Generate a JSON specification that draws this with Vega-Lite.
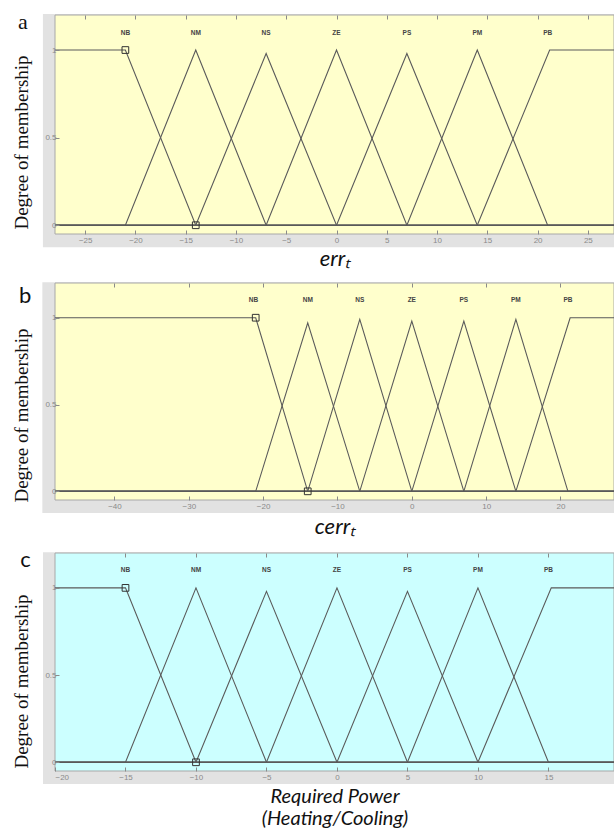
{
  "$schema": "https://vega.github.io/schema/vega-lite/v6.json",
  "background": "white",
  "padding": {"left": 12, "top": 11, "right": 0, "bottom": 0},
  "spacing": 49,
  "bounds": "flush",
  "config": {
    "view": {"stroke": null},
    "axis": {"grid": false, "domain": false, "tickColor": "#8a8a8a", "tickSize": -4, "labelColor": "#8a8a8a", "labelFont": "Liberation Sans", "labelFontSize": 8, "titleColor": "#111", "titleFontWeight": "normal"}
  },
  "vconcat": [
    {
      "width": 559, "height": 219,
      "layer": [
        {"data": {"values": [{}]}, "mark": {"type": "rect", "color": "#e2e2e2", "clip": false},
         "encoding": {
           "x": {"datum": -29.2, "type": "quantitative", "scale": {"domain": [-28, 27.6], "nice": false, "zero": false}, "axis": {"orient": "top", "zindex": 2, "values": [-25, -20, -15, -10, -5, 0, 5, 10, 15, 20, 25], "labels": false, "title": null}},
           "x2": {"datum": 27.6},
           "y": {"datum": -0.125, "type": "quantitative", "scale": {"domain": [-0.05, 1.2], "nice": false, "zero": false}, "axis": null},
           "y2": {"datum": 1.205}
         }},
        {"data": {"values": [{}]}, "mark": {"type": "rect", "color": "#ffffcc", "stroke": "#a8a8a8", "strokeWidth": 1},
         "encoding": {
           "x": {"datum": -28, "type": "quantitative", "axis": {"orient": "bottom", "zindex": 2, "values": [-25, -20, -15, -10, -5, 0, 5, 10, 15, 20, 25], "labelPadding": 6, "title": "errₜ", "titleFont": "Lato", "titleFontStyle": "italic", "titleFontSize": 22, "titlePadding": 4}},
           "x2": {"datum": 27.6},
           "y": {"datum": -0.05, "type": "quantitative", "axis": {"zindex": 2, "values": [0, 0.5, 1], "labelExpr": "'' + datum.value", "labelPadding": 3, "title": "Degree of membership", "titleFont": "Liberation Serif", "titleFontSize": 19, "titlePadding": 13, "titleY": 127}},
           "y2": {"datum": 1.2}
         }},
        {"data": {"values": [
          {"mf": "NB", "x": -28, "y": 1}, {"mf": "NB", "x": -21, "y": 1}, {"mf": "NB", "x": -14, "y": 0}, {"mf": "NB", "x": 27.6, "y": 0},
          {"mf": "NM", "x": -28, "y": 0}, {"mf": "NM", "x": -21, "y": 0}, {"mf": "NM", "x": -14, "y": 1}, {"mf": "NM", "x": -7, "y": 0}, {"mf": "NM", "x": 27.6, "y": 0},
          {"mf": "NS", "x": -28, "y": 0}, {"mf": "NS", "x": -14, "y": 0}, {"mf": "NS", "x": -7, "y": 0.98}, {"mf": "NS", "x": 0, "y": 0}, {"mf": "NS", "x": 27.6, "y": 0},
          {"mf": "ZE", "x": -28, "y": 0}, {"mf": "ZE", "x": -7, "y": 0}, {"mf": "ZE", "x": 0, "y": 1}, {"mf": "ZE", "x": 7, "y": 0}, {"mf": "ZE", "x": 27.6, "y": 0},
          {"mf": "PS", "x": -28, "y": 0}, {"mf": "PS", "x": 0, "y": 0}, {"mf": "PS", "x": 7, "y": 0.98}, {"mf": "PS", "x": 14, "y": 0}, {"mf": "PS", "x": 27.6, "y": 0},
          {"mf": "PM", "x": -28, "y": 0}, {"mf": "PM", "x": 7, "y": 0}, {"mf": "PM", "x": 14, "y": 1}, {"mf": "PM", "x": 21, "y": 0}, {"mf": "PM", "x": 27.6, "y": 0},
          {"mf": "PB", "x": -28, "y": 0}, {"mf": "PB", "x": 14, "y": 0}, {"mf": "PB", "x": 21.2, "y": 1}, {"mf": "PB", "x": 27.6, "y": 1}
         ]},
         "mark": {"type": "line", "color": "#5a5a5a", "strokeWidth": 1.1},
         "encoding": {
           "x": {"field": "x", "type": "quantitative", "axis": null},
           "y": {"field": "y", "type": "quantitative", "axis": null},
           "detail": {"field": "mf"}
         }},
        {"data": {"values": [{"x": -21, "y": 1}, {"x": -14, "y": 0}]},
         "mark": {"type": "point", "shape": "square", "size": 45, "filled": false, "stroke": "#333", "strokeWidth": 1, "opacity": 1},
         "encoding": {
           "x": {"field": "x", "type": "quantitative", "axis": null},
           "y": {"field": "y", "type": "quantitative", "axis": null}
         }},
        {"data": {"values": [{"mf": "NB", "x": -21}, {"mf": "NM", "x": -14}, {"mf": "NS", "x": -7}, {"mf": "ZE", "x": 0}, {"mf": "PS", "x": 7}, {"mf": "PM", "x": 14}, {"mf": "PB", "x": 21}]},
         "mark": {"type": "text", "font": "Liberation Sans", "fontSize": 6.5, "fontWeight": "bold", "color": "#444"},
         "encoding": {
           "x": {"field": "x", "type": "quantitative", "axis": null},
           "y": {"datum": 1.1, "type": "quantitative", "axis": null},
           "text": {"field": "mf"}
         }},
        {"data": {"values": [{"panel": "a"}]},
         "mark": {"type": "text", "font": "Liberation Serif", "fontSize": 22, "color": "#111", "baseline": "alphabetic", "align": "center"},
         "encoding": {
           "x": {"datum": -31.2, "type": "quantitative", "axis": null},
           "y": {"datum": 1.12, "type": "quantitative", "axis": null},
           "text": {"field": "panel"}
         }}
      ],
      "resolve": {"axis": {"x": "independent", "y": "independent"}}
    },
    {
      "spacing": 53,
      "bounds": "flush",
      "vconcat": [
        {
          "width": 559, "height": 217,
          "layer": [
            {"data": {"values": [{}]}, "mark": {"type": "rect", "color": "#e2e2e2", "clip": false},
             "encoding": {
               "x": {"datum": -49.7, "type": "quantitative", "scale": {"domain": [-48, 27.2], "nice": false, "zero": false}, "axis": {"orient": "top", "zindex": 2, "values": [-40, -30, -20, -10, 0, 10, 20], "labels": false, "title": null}},
               "x2": {"datum": 27.2},
               "y": {"datum": -0.125, "type": "quantitative", "scale": {"domain": [-0.05, 1.2], "nice": false, "zero": false}, "axis": null},
               "y2": {"datum": 1.205}
             }},
            {"data": {"values": [{}]}, "mark": {"type": "rect", "color": "#ffffcc", "stroke": "#a8a8a8", "strokeWidth": 1},
             "encoding": {
               "x": {"datum": -48, "type": "quantitative", "axis": {"orient": "bottom", "zindex": 2, "values": [-40, -30, -20, -10, 0, 10, 20], "labelPadding": 6, "title": "cerrₜ", "titleFont": "Lato", "titleFontStyle": "italic", "titleFontSize": 22, "titlePadding": 6}},
               "x2": {"datum": 27.2},
               "y": {"datum": -0.05, "type": "quantitative", "axis": {"zindex": 2, "values": [0, 0.5, 1], "labelExpr": "'' + datum.value", "labelPadding": 3, "title": "Degree of membership", "titleFont": "Liberation Serif", "titleFontSize": 19, "titlePadding": 13, "titleY": 132}},
               "y2": {"datum": 1.2}
             }},
            {"data": {"values": [
              {"mf": "NB", "x": -48, "y": 1}, {"mf": "NB", "x": -21, "y": 1}, {"mf": "NB", "x": -14, "y": 0}, {"mf": "NB", "x": 27.2, "y": 0},
              {"mf": "NM", "x": -48, "y": 0}, {"mf": "NM", "x": -21, "y": 0}, {"mf": "NM", "x": -14, "y": 0.97}, {"mf": "NM", "x": -7, "y": 0}, {"mf": "NM", "x": 27.2, "y": 0},
              {"mf": "NS", "x": -48, "y": 0}, {"mf": "NS", "x": -14, "y": 0}, {"mf": "NS", "x": -7, "y": 0.99}, {"mf": "NS", "x": 0, "y": 0}, {"mf": "NS", "x": 27.2, "y": 0},
              {"mf": "ZE", "x": -48, "y": 0}, {"mf": "ZE", "x": -7, "y": 0}, {"mf": "ZE", "x": 0, "y": 0.98}, {"mf": "ZE", "x": 7, "y": 0}, {"mf": "ZE", "x": 27.2, "y": 0},
              {"mf": "PS", "x": -48, "y": 0}, {"mf": "PS", "x": 0, "y": 0}, {"mf": "PS", "x": 7, "y": 0.98}, {"mf": "PS", "x": 14, "y": 0}, {"mf": "PS", "x": 27.2, "y": 0},
              {"mf": "PM", "x": -48, "y": 0}, {"mf": "PM", "x": 7, "y": 0}, {"mf": "PM", "x": 14, "y": 0.99}, {"mf": "PM", "x": 21, "y": 0}, {"mf": "PM", "x": 27.2, "y": 0},
              {"mf": "PB", "x": -48, "y": 0}, {"mf": "PB", "x": 14, "y": 0}, {"mf": "PB", "x": 21.3, "y": 1}, {"mf": "PB", "x": 27.2, "y": 1}
             ]},
             "mark": {"type": "line", "color": "#5a5a5a", "strokeWidth": 1.1},
             "encoding": {
               "x": {"field": "x", "type": "quantitative", "axis": null},
               "y": {"field": "y", "type": "quantitative", "axis": null},
               "detail": {"field": "mf"}
             }},
            {"data": {"values": [{"x": -21, "y": 1}, {"x": -14, "y": 0}]},
             "mark": {"type": "point", "shape": "square", "size": 45, "filled": false, "stroke": "#333", "strokeWidth": 1, "opacity": 1},
             "encoding": {
               "x": {"field": "x", "type": "quantitative", "axis": null},
               "y": {"field": "y", "type": "quantitative", "axis": null}
             }},
            {"data": {"values": [{"mf": "NB", "x": -21.3}, {"mf": "NM", "x": -14}, {"mf": "NS", "x": -7}, {"mf": "ZE", "x": 0}, {"mf": "PS", "x": 7}, {"mf": "PM", "x": 14}, {"mf": "PB", "x": 21}]},
             "mark": {"type": "text", "font": "Liberation Sans", "fontSize": 6.5, "fontWeight": "bold", "color": "#444"},
             "encoding": {
               "x": {"field": "x", "type": "quantitative", "axis": null},
               "y": {"datum": 1.1, "type": "quantitative", "axis": null},
               "text": {"field": "mf"}
             }},
            {"data": {"values": [{"panel": "b"}]},
             "mark": {"type": "text", "font": "Lato", "fontSize": 22, "color": "#111", "baseline": "alphabetic", "align": "center"},
             "encoding": {
               "x": {"datum": -52.0, "type": "quantitative", "axis": null},
               "y": {"datum": 1.085, "type": "quantitative", "axis": null},
               "text": {"field": "panel"}
             }}
          ],
          "resolve": {"axis": {"x": "independent", "y": "independent"}}
        },
        {
          "width": 559, "height": 218,
          "layer": [
            {"data": {"values": [{}]}, "mark": {"type": "rect", "color": "#e2e2e2", "clip": false},
             "encoding": {
               "x": {"datum": -20.85, "type": "quantitative", "scale": {"domain": [-20, 19.65], "nice": false, "zero": false}, "axis": {"orient": "top", "zindex": 2, "values": [-15, -10, -5, 0, 5, 10, 15], "labels": false, "title": null}},
               "x2": {"datum": 19.65},
               "y": {"datum": -0.125, "type": "quantitative", "scale": {"domain": [-0.05, 1.2], "nice": false, "zero": false}, "axis": null},
               "y2": {"datum": 1.205}
             }},
            {"data": {"values": [{}]}, "mark": {"type": "rect", "color": "#ccffff", "stroke": "#a8a8a8", "strokeWidth": 1},
             "encoding": {
               "x": {"datum": -20, "type": "quantitative", "axis": {"orient": "bottom", "zindex": 2, "values": [-20, -15, -10, -5, 0, 5, 10, 15], "labelPadding": 6, "title": ["Required Power", "(Heating/Cooling)"], "titleFont": "Lato", "titleFontStyle": "italic", "titleFontSize": 20, "titleLineHeight": 22, "titlePadding": 5}},
               "x2": {"datum": 19.65},
               "y": {"datum": -0.05, "type": "quantitative", "axis": {"zindex": 2, "values": [0, 0.5, 1], "labelExpr": "'' + datum.value", "labelPadding": 3, "title": "Degree of membership", "titleFont": "Liberation Serif", "titleFontSize": 19, "titlePadding": 13, "titleY": 128}},
               "y2": {"datum": 1.2}
             }},
            {"data": {"values": [
              {"mf": "NB", "x": -20, "y": 1}, {"mf": "NB", "x": -15, "y": 1}, {"mf": "NB", "x": -10, "y": 0}, {"mf": "NB", "x": 19.65, "y": 0},
              {"mf": "NM", "x": -20, "y": 0}, {"mf": "NM", "x": -15, "y": 0}, {"mf": "NM", "x": -10, "y": 1}, {"mf": "NM", "x": -5, "y": 0}, {"mf": "NM", "x": 19.65, "y": 0},
              {"mf": "NS", "x": -20, "y": 0}, {"mf": "NS", "x": -10, "y": 0}, {"mf": "NS", "x": -5, "y": 0.98}, {"mf": "NS", "x": 0, "y": 0}, {"mf": "NS", "x": 19.65, "y": 0},
              {"mf": "ZE", "x": -20, "y": 0}, {"mf": "ZE", "x": -5, "y": 0}, {"mf": "ZE", "x": 0, "y": 1}, {"mf": "ZE", "x": 5, "y": 0}, {"mf": "ZE", "x": 19.65, "y": 0},
              {"mf": "PS", "x": -20, "y": 0}, {"mf": "PS", "x": 0, "y": 0}, {"mf": "PS", "x": 5, "y": 0.98}, {"mf": "PS", "x": 10, "y": 0}, {"mf": "PS", "x": 19.65, "y": 0},
              {"mf": "PM", "x": -20, "y": 0}, {"mf": "PM", "x": 5, "y": 0}, {"mf": "PM", "x": 10, "y": 1}, {"mf": "PM", "x": 15, "y": 0}, {"mf": "PM", "x": 19.65, "y": 0},
              {"mf": "PB", "x": -20, "y": 0}, {"mf": "PB", "x": 10, "y": 0}, {"mf": "PB", "x": 15.2, "y": 1}, {"mf": "PB", "x": 19.65, "y": 1}
             ]},
             "mark": {"type": "line", "color": "#5a5a5a", "strokeWidth": 1.1},
             "encoding": {
               "x": {"field": "x", "type": "quantitative", "axis": null},
               "y": {"field": "y", "type": "quantitative", "axis": null},
               "detail": {"field": "mf"}
             }},
            {"data": {"values": [{"x": -15, "y": 1}, {"x": -10, "y": 0}]},
             "mark": {"type": "point", "shape": "square", "size": 45, "filled": false, "stroke": "#333", "strokeWidth": 1, "opacity": 1},
             "encoding": {
               "x": {"field": "x", "type": "quantitative", "axis": null},
               "y": {"field": "y", "type": "quantitative", "axis": null}
             }},
            {"data": {"values": [{"mf": "NB", "x": -15}, {"mf": "NM", "x": -10}, {"mf": "NS", "x": -5}, {"mf": "ZE", "x": 0}, {"mf": "PS", "x": 5}, {"mf": "PM", "x": 10}, {"mf": "PB", "x": 15}]},
             "mark": {"type": "text", "font": "Liberation Sans", "fontSize": 6.5, "fontWeight": "bold", "color": "#444"},
             "encoding": {
               "x": {"field": "x", "type": "quantitative", "axis": null},
               "y": {"datum": 1.1, "type": "quantitative", "axis": null},
               "text": {"field": "mf"}
             }},
            {"data": {"values": [{"panel": "c"}]},
             "mark": {"type": "text", "font": "Lato", "fontSize": 22, "color": "#111", "baseline": "alphabetic", "align": "center"},
             "encoding": {
               "x": {"datum": -22.1, "type": "quantitative", "axis": null},
               "y": {"datum": 1.12, "type": "quantitative", "axis": null},
               "text": {"field": "panel"}
             }}
          ],
          "resolve": {"axis": {"x": "independent", "y": "independent"}}
        }
      ]
    }
  ]
}
